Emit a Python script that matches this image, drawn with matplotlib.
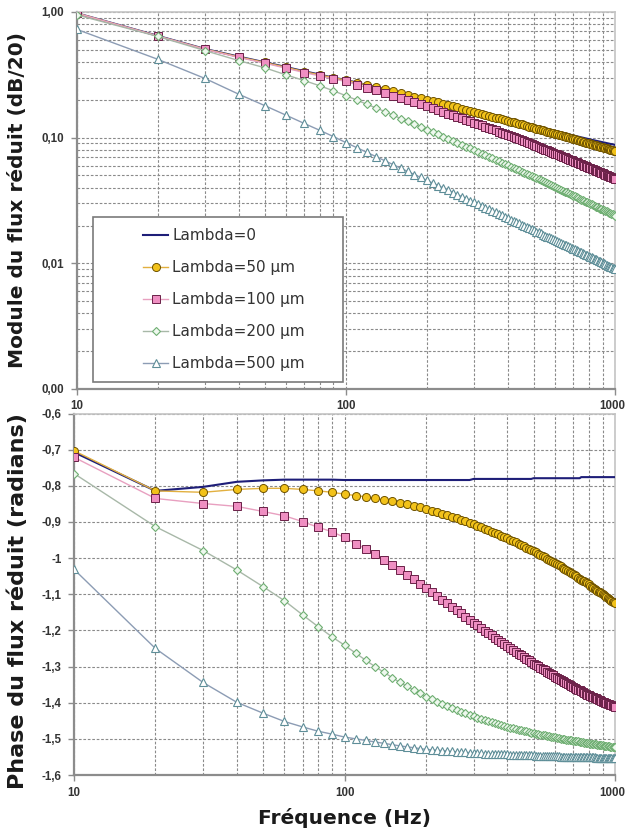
import matplotlib
matplotlib.use('Agg')
import matplotlib.pyplot as plt
from matplotlib.ticker import FixedLocator, FuncFormatter, NullFormatter
from matplotlib.patches import Rectangle
from matplotlib.transforms import offset_copy
from matplotlib.font_manager import FontProperties

plt.rcParams['font.family'] = ['DejaVu Sans']

# ---------------- data ----------------
freq = list(range(10, 1001, 10))
labels = ['Lambda=0', 'Lambda=50 µm', 'Lambda=100 µm', 'Lambda=200 µm', 'Lambda=500 µm']

mod_l0 = [0.98, 0.647, 0.508, 0.442, 0.398, 0.365, 0.338, 0.318, 0.300,
          0.2880, 0.2745, 0.2626, 0.2527, 0.2438, 0.2349, 0.2270, 0.2201, 0.2137, 0.2073,
          0.2024, 0.1970, 0.1922, 0.1878, 0.1836, 0.1797, 0.1759, 0.1725, 0.1691, 0.1660,
          0.1630, 0.1601, 0.1576, 0.1549, 0.1524, 0.1501, 0.1477, 0.1456, 0.1435, 0.1415,
          0.1397, 0.1378, 0.1360, 0.1344, 0.1327, 0.1312, 0.1296, 0.1282, 0.1267, 0.1252,
          0.1239, 0.1226, 0.1214, 0.1201, 0.1190, 0.1178, 0.1167, 0.1156, 0.1145, 0.1136,
          0.1126, 0.1116, 0.1107, 0.1098, 0.1089, 0.1081, 0.1072, 0.1064, 0.1056, 0.1048,
          0.1040, 0.1033, 0.1026, 0.1019, 0.1012, 0.1005, 0.0999, 0.0992, 0.0986, 0.0980,
          0.0974, 0.0968, 0.0962, 0.0956, 0.0951, 0.0945, 0.0940, 0.0935, 0.0930, 0.0925,
          0.0920, 0.0915, 0.0911, 0.0906, 0.0901, 0.0897, 0.0892, 0.0888, 0.0884, 0.0880, 0.0876]

mod_50 = [0.98, 0.645, 0.507, 0.440, 0.397, 0.363, 0.336, 0.316, 0.300,
          0.2876, 0.2740, 0.2620, 0.2520, 0.2430, 0.2340, 0.2260, 0.2190, 0.2125, 0.2060,
          0.2010, 0.1955, 0.1906, 0.1861, 0.1818, 0.1778, 0.1739, 0.1704, 0.1669, 0.1637,
          0.1606, 0.1576, 0.1550, 0.1522, 0.1496, 0.1472, 0.1447, 0.1425, 0.1403, 0.1382,
          0.1363, 0.1343, 0.1324, 0.1307, 0.1289, 0.1273, 0.1256, 0.1241, 0.1225, 0.1210,
          0.1196, 0.1182, 0.1169, 0.1155, 0.1143, 0.1130, 0.1118, 0.1106, 0.1094, 0.1084,
          0.1073, 0.1062, 0.1052, 0.1042, 0.1032, 0.1023, 0.1013, 0.1004, 0.0995, 0.0986,
          0.0977, 0.0969, 0.0961, 0.0953, 0.0945, 0.0937, 0.0930, 0.0922, 0.0915, 0.0908,
          0.0901, 0.0894, 0.0887, 0.0880, 0.0874, 0.0867, 0.0861, 0.0855, 0.0849, 0.0843,
          0.0837, 0.0831, 0.0826, 0.0820, 0.0814, 0.0809, 0.0803, 0.0798, 0.0793, 0.0788, 0.0784]

mod_100 = [0.98, 0.645, 0.505, 0.435, 0.392, 0.357, 0.330, 0.310, 0.293,
           0.2800, 0.2640, 0.2500, 0.2380, 0.2260, 0.2160, 0.2070, 0.1990, 0.1910, 0.1840,
           0.1775, 0.1715, 0.1658, 0.1606, 0.1556, 0.1510, 0.1466, 0.1425, 0.1386, 0.1350,
           0.1316, 0.1283, 0.1252, 0.1222, 0.1194, 0.1167, 0.1141, 0.1117, 0.1093, 0.1070,
           0.1048, 0.1028, 0.1008, 0.0989, 0.0970, 0.0952, 0.0935, 0.0919, 0.0903, 0.0887,
           0.0872, 0.0858, 0.0844, 0.0831, 0.0817, 0.0804, 0.0792, 0.0780, 0.0769, 0.0758,
           0.0747, 0.0736, 0.0725, 0.0715, 0.0705, 0.0696, 0.0687, 0.0678, 0.0669, 0.0660,
           0.0652, 0.0644, 0.0636, 0.0628, 0.0620, 0.0613, 0.0606, 0.0599, 0.0592, 0.0585,
           0.0578, 0.0571, 0.0565, 0.0559, 0.0553, 0.0547, 0.0541, 0.0536, 0.0530, 0.0524,
           0.0519, 0.0514, 0.0508, 0.0503, 0.0498, 0.0493, 0.0489, 0.0484, 0.0479, 0.0475, 0.0470]

mod_200 = [0.95, 0.640, 0.493, 0.411, 0.360, 0.316, 0.285, 0.259, 0.236,
           0.2160, 0.1990, 0.1840, 0.1720, 0.1610, 0.1510, 0.1420, 0.1350, 0.1280, 0.1216,
           0.1160, 0.1109, 0.1062, 0.1019, 0.0979, 0.0943, 0.0909, 0.0877, 0.0847, 0.0820,
           0.0793, 0.0769, 0.0747, 0.0724, 0.0704, 0.0685, 0.0667, 0.0649, 0.0633, 0.0617,
           0.0602, 0.0588, 0.0574, 0.0561, 0.0549, 0.0537, 0.0525, 0.0514, 0.0504, 0.0494,
           0.0484, 0.0475, 0.0466, 0.0457, 0.0449, 0.0441, 0.0433, 0.0425, 0.0418, 0.0410,
           0.0404, 0.0397, 0.0390, 0.0384, 0.0378, 0.0372, 0.0367, 0.0361, 0.0356, 0.0351,
           0.0346, 0.0341, 0.0336, 0.0331, 0.0327, 0.0322, 0.0318, 0.0314, 0.0310, 0.0306,
           0.0302, 0.0298, 0.0294, 0.0290, 0.0287, 0.0283, 0.0280, 0.0277, 0.0273, 0.0270,
           0.0267, 0.0264, 0.0261, 0.0259, 0.0256, 0.0253, 0.0250, 0.0248, 0.0245, 0.0243, 0.0240]

mod_500 = [0.729, 0.421, 0.296, 0.222, 0.180, 0.151, 0.130, 0.1145, 0.102,
           0.0915, 0.0832, 0.0763, 0.0704, 0.0654, 0.0610, 0.0572, 0.0538, 0.0508, 0.0482,
           0.0458, 0.0436, 0.0416, 0.0398, 0.0381, 0.0366, 0.0352, 0.0339, 0.0327, 0.0316,
           0.0305, 0.0295, 0.0286, 0.0277, 0.0269, 0.0261, 0.0254, 0.0247, 0.0241, 0.0235,
           0.0229, 0.0223, 0.0218, 0.0213, 0.0208, 0.0203, 0.0199, 0.0195, 0.0191, 0.0187,
           0.0183, 0.0179, 0.0176, 0.0173, 0.0169, 0.0166, 0.0163, 0.0161, 0.0158, 0.0155,
           0.0153, 0.0150, 0.0148, 0.0145, 0.0143, 0.0141, 0.0139, 0.0137, 0.0135, 0.0133,
           0.0131, 0.0129, 0.0127, 0.0125, 0.0124, 0.0122, 0.0120, 0.0119, 0.0117, 0.0116,
           0.0114, 0.0113, 0.0112, 0.0110, 0.0109, 0.0108, 0.0106, 0.0105, 0.0104, 0.0103,
           0.0101, 0.0100, 0.0098, 0.0097, 0.0096, 0.0095, 0.0094, 0.0093, 0.0092, 0.0091, 0.0090]

ph_l0 = [-0.707, -0.814, -0.803, -0.789, -0.785, -0.783, -0.783, -0.783, -0.783,
         -0.784, -0.784, -0.784, -0.784, -0.784, -0.784, -0.784, -0.784, -0.784, -0.784,
         -0.784, -0.784, -0.784, -0.784, -0.784, -0.784, -0.784, -0.784, -0.784, -0.784,
         -0.781, -0.781, -0.781, -0.781, -0.781, -0.781, -0.781, -0.781, -0.781, -0.781,
         -0.781, -0.781, -0.781, -0.781, -0.781, -0.781, -0.781, -0.781, -0.781, -0.781,
         -0.779, -0.779, -0.779, -0.779, -0.779, -0.779, -0.779, -0.779, -0.779, -0.779,
         -0.779, -0.779, -0.779, -0.779, -0.779, -0.779, -0.779, -0.779, -0.779, -0.779,
         -0.779, -0.779, -0.779, -0.779, -0.779, -0.776, -0.776, -0.776, -0.776, -0.776,
         -0.776, -0.776, -0.776, -0.776, -0.776, -0.776, -0.776, -0.776, -0.776, -0.776,
         -0.776, -0.776, -0.776, -0.776, -0.776, -0.776, -0.776, -0.776, -0.776, -0.776, -0.776]

ph_50 = [-0.703, -0.814, -0.818, -0.810, -0.807, -0.807, -0.810, -0.814, -0.818,
         -0.8230, -0.8270, -0.8306, -0.8345, -0.8388, -0.8429, -0.8468, -0.8515, -0.8559, -0.8600,
         -0.8640, -0.8687, -0.8732, -0.8774, -0.8815, -0.8854, -0.8899, -0.8943, -0.8985, -0.9026,
         -0.9066, -0.9104, -0.9143, -0.9185, -0.9227, -0.9266, -0.9305, -0.9343, -0.9379, -0.9415,
         -0.9451, -0.9490, -0.9528, -0.9566, -0.9603, -0.9639, -0.9674, -0.9708, -0.9742, -0.9775,
         -0.9807, -0.9843, -0.9879, -0.9914, -0.9948, -0.9982, -1.0015, -1.0047, -1.0079, -1.0111,
         -1.0142, -1.0172, -1.0202, -1.0231, -1.0264, -1.0296, -1.0327, -1.0359, -1.0389, -1.0419,
         -1.0450, -1.0479, -1.0508, -1.0537, -1.0565, -1.0593, -1.0620, -1.0647, -1.0674, -1.0701,
         -1.0729, -1.0758, -1.0786, -1.0815, -1.0843, -1.0870, -1.0898, -1.0925, -1.0951, -1.0978,
         -1.1004, -1.1029, -1.1055, -1.1081, -1.1105, -1.1130, -1.1155, -1.1179, -1.1203, -1.1226, -1.1250]

ph_100 = [-0.721, -0.835, -0.849, -0.857, -0.871, -0.883, -0.899, -0.915, -0.927,
          -0.9430, -0.9597, -0.9749, -0.9898, -1.0048, -1.0188, -1.0321, -1.0457, -1.0585, -1.0706,
          -1.0820, -1.0936, -1.1046, -1.1151, -1.1252, -1.1349, -1.1442, -1.1532, -1.1619, -1.1702,
          -1.1783, -1.1861, -1.1935, -1.2005, -1.2072, -1.2138, -1.2202, -1.2264, -1.2325, -1.2384,
          -1.2440, -1.2493, -1.2544, -1.2595, -1.2644, -1.2692, -1.2740, -1.2785, -1.2830, -1.2875,
          -1.2918, -1.2958, -1.2996, -1.3034, -1.3071, -1.3108, -1.3143, -1.3178, -1.3213, -1.3247,
          -1.3280, -1.3313, -1.3345, -1.3377, -1.3405, -1.3432, -1.3459, -1.3486, -1.3512, -1.3537,
          -1.3563, -1.3588, -1.3612, -1.3636, -1.3660, -1.3684, -1.3707, -1.3730, -1.3753, -1.3775,
          -1.3795, -1.3813, -1.3831, -1.3849, -1.3866, -1.3883, -1.3901, -1.3917, -1.3934, -1.3950,
          -1.3967, -1.3983, -1.3999, -1.4014, -1.4030, -1.4045, -1.4061, -1.4076, -1.4090, -1.4105, -1.4120]

ph_200 = [-0.766, -0.913, -0.979, -1.033, -1.079, -1.118, -1.157, -1.190, -1.218,
          -1.2410, -1.2629, -1.2830, -1.3007, -1.3161, -1.3305, -1.3437, -1.3545, -1.3647, -1.3743,
          -1.3833, -1.3904, -1.3972, -1.4037, -1.4099, -1.4158, -1.4206, -1.4251, -1.4295, -1.4337,
          -1.4377, -1.4416, -1.4451, -1.4482, -1.4511, -1.4539, -1.4567, -1.4593, -1.4620, -1.4645,
          -1.4669, -1.4688, -1.4707, -1.4725, -1.4743, -1.4761, -1.4778, -1.4795, -1.4811, -1.4827,
          -1.4843, -1.4856, -1.4869, -1.4881, -1.4893, -1.4905, -1.4916, -1.4928, -1.4939, -1.4950,
          -1.4961, -1.4971, -1.4982, -1.4992, -1.5001, -1.5009, -1.5018, -1.5026, -1.5034, -1.5042,
          -1.5050, -1.5058, -1.5066, -1.5073, -1.5081, -1.5088, -1.5096, -1.5103, -1.5110, -1.5117,
          -1.5124, -1.5130, -1.5136, -1.5142, -1.5148, -1.5154, -1.5160, -1.5165, -1.5171, -1.5177,
          -1.5182, -1.5188, -1.5193, -1.5199, -1.5204, -1.5209, -1.5215, -1.5220, -1.5225, -1.5230, -1.5235]

ph_500 = [-1.031, -1.250, -1.344, -1.399, -1.429, -1.452, -1.467, -1.479, -1.487,
          -1.4950, -1.5000, -1.5045, -1.5087, -1.5125, -1.5161, -1.5194, -1.5220, -1.5245, -1.5269,
          -1.5291, -1.5303, -1.5315, -1.5327, -1.5338, -1.5349, -1.5358, -1.5366, -1.5374, -1.5381,
          -1.5389, -1.5396, -1.5402, -1.5406, -1.5409, -1.5413, -1.5417, -1.5420, -1.5424, -1.5427,
          -1.5431, -1.5434, -1.5437, -1.5440, -1.5443, -1.5446, -1.5449, -1.5452, -1.5454, -1.5457,
          -1.5460, -1.5462, -1.5465, -1.5467, -1.5470, -1.5472, -1.5474, -1.5477, -1.5479, -1.5481,
          -1.5483, -1.5486, -1.5488, -1.5490, -1.5491, -1.5493, -1.5494, -1.5495, -1.5497, -1.5498,
          -1.5499, -1.5500, -1.5501, -1.5503, -1.5504, -1.5505, -1.5506, -1.5507, -1.5508, -1.5510,
          -1.5511, -1.5512, -1.5513, -1.5514, -1.5515, -1.5516, -1.5517, -1.5518, -1.5519, -1.5520,
          -1.5521, -1.5522, -1.5523, -1.5524, -1.5525, -1.5526, -1.5526, -1.5527, -1.5528, -1.5529, -1.5530]

x_ticks = [10, 100, 1000]
x_tick_labels = ['10', '100', '1000']
mod_ticks = [0.001, 0.01, 0.1, 1.0]
phase_ticks = [-1.6, -1.5, -1.4, -1.3, -1.2, -1.1, -1.0, -0.9, -0.8, -0.7, -0.6]

# ---------------- styles ----------------
styles = [
    dict(color='#1e1e78', lw=1.5, marker=None),
    dict(color='#e2b040', lw=1.0, marker='o', mfc='#f2c21a', mec='#6e5200', ms=5.8, mew=0.7),
    dict(color='#e8a0c0', lw=1.0, marker='s', mfc='#ef8fc2', mec='#6a2048', ms=5.2, mew=0.7),
    dict(color='#a8b8a8', lw=1.0, marker='D', mfc='#eef8ee', mec='#6fae72', ms=4.2, mew=0.8),
    dict(color='#8c9cb4', lw=1.0, marker='^', mfc='#ffffff', mec='#5e8e98', ms=5.6, mew=0.8),
]

W, H = 626, 831
fig = plt.figure(figsize=(W / 100, H / 100), dpi=100)
fig.patch.set_facecolor('white')
ax1 = fig.add_axes([76.5 / W, 1 - 389 / H, (615 - 76.5) / W, (389 - 12) / H])
ax2 = fig.add_axes([74 / W, 1 - 775 / H, (615 - 74) / W, (775 - 413.5) / H])

tick_fp = FontProperties(family='Liberation Sans', weight='bold', size=8.3)
grid_kw = dict(color='#8a8a8a', linewidth=0.8, linestyle=(0, (2.4, 1.6)))
minor_x = [v * d for d in (10, 100) for v in range(2, 10)]

mods = [mod_l0, mod_50, mod_100, mod_200, mod_500]
phases = [ph_l0, ph_50, ph_100, ph_200, ph_500]

for ax, series, label_gap in ((ax1, mods, 8.0), (ax2, phases, 8.6)):
    for i, (vals, st, lab) in enumerate(zip(series, styles, labels)):
        kw = dict(color=st['color'], lw=st['lw'], label=lab, zorder=3 + i)
        if st['marker']:
            kw.update(marker=st['marker'], markerfacecolor=st['mfc'], markeredgecolor=st['mec'],
                      markersize=st['ms'], markeredgewidth=st['mew'])
        ax.plot(freq, vals, **kw)
    ax.set_xscale('log')
    ax.set_xlim(10, 1000)
    ax.xaxis.set_major_locator(FixedLocator(x_ticks))
    ax.xaxis.set_minor_locator(FixedLocator(minor_x))
    ax.xaxis.set_minor_formatter(NullFormatter())
    ax.grid(True, which='both', axis='x', **grid_kw)
    for sp in ('left', 'bottom'):
        ax.spines[sp].set_color('#8c8c8c')
        ax.spines[sp].set_linewidth(1.6)
    for sp in ('top', 'right'):
        ax.spines[sp].set_color('#c4c4c4')
        ax.spines[sp].set_linewidth(1.2)
    ax.tick_params(which='major', direction='out', length=4, width=1, color='#8c8c8c',
                   labelcolor='#333333')
    ax.tick_params(which='minor', length=0)
    ax.tick_params(axis='x', labelbottom=False)
    ax.set_axisbelow(True)
    # x tick labels as text at the tick values (the last one kept inside the figure)
    for v, s in zip(x_ticks, x_tick_labels):
        if v == x_ticks[-1]:
            tr = offset_copy(ax.get_xaxis_transform(), fig=fig, x=7.5, y=-label_gap, units='points')
            ha = 'right'
        else:
            tr = offset_copy(ax.get_xaxis_transform(), fig=fig, x=0, y=-label_gap, units='points')
            ha = 'center'
        ax.text(v, 0, s, transform=tr, ha=ha, va='top', fontproperties=tick_fp,
                color='#333333', clip_on=False)

# top panel
ax1.set_yscale('log')
ax1.set_ylim(0.001, 1.0)
ax1.yaxis.set_major_locator(FixedLocator(mod_ticks))
ax1.yaxis.set_minor_locator(FixedLocator([v * d for d in (0.001, 0.01, 0.1) for v in range(2, 10)]))
ax1.yaxis.set_major_formatter(FuncFormatter(lambda v, p: f'{v:.2f}'.replace('.', ',')))
ax1.yaxis.set_minor_formatter(NullFormatter())
ax1.grid(True, which='both', axis='y', **grid_kw)
ax1.tick_params(axis='y', which='major', pad=5)

# bottom panel
ax2.set_ylim(-1.6, -0.6)
ax2.yaxis.set_major_locator(FixedLocator(phase_ticks))
ax2.yaxis.set_major_formatter(FuncFormatter(lambda v, p: f'{round(v, 1):g}'.replace('.', ',')))
ax2.grid(True, which='major', axis='y', **grid_kw)
ax2.tick_params(axis='y', which='major', pad=5)

for ax in (ax1, ax2):
    for t in ax.get_yticklabels():
        t.set_fontproperties(tick_fp)

label_kw = dict(family='DejaVu Sans', weight='bold', color='#1a1a1a')
fig.text(18 / W, 1 - 200 / H, 'Module du flux réduit (dB/20)', rotation=90,
         ha='center', va='center', size=14.5, **label_kw)
fig.text(18 / W, 1 - 601 / H, 'Phase du flux réduit (radians)', rotation=90,
         ha='center', va='center', size=16.0, **label_kw)
fig.text(345 / W, 1 - 818 / H, 'Fréquence (Hz)', ha='center', va='center', size=14.5, **label_kw)

# legend with a separate box
box = Rectangle((0.031, 0.019), 0.464, 0.437, transform=ax1.transAxes,
                facecolor='white', edgecolor='#7a7a7a', linewidth=1.2, zorder=10)
ax1.add_patch(box)
leg = ax1.legend(loc='upper left', bbox_to_anchor=(0.1235, 0.427), frameon=False,
                 borderpad=0, borderaxespad=0, handlelength=1.65, handletextpad=0.25,
                 labelspacing=1.12, prop=dict(family='DejaVu Sans', size=11))
leg.set_zorder(11)
for t in leg.get_texts():
    t.set_color('#333333')

fig.savefig('out.png', dpi=100, facecolor='white')
